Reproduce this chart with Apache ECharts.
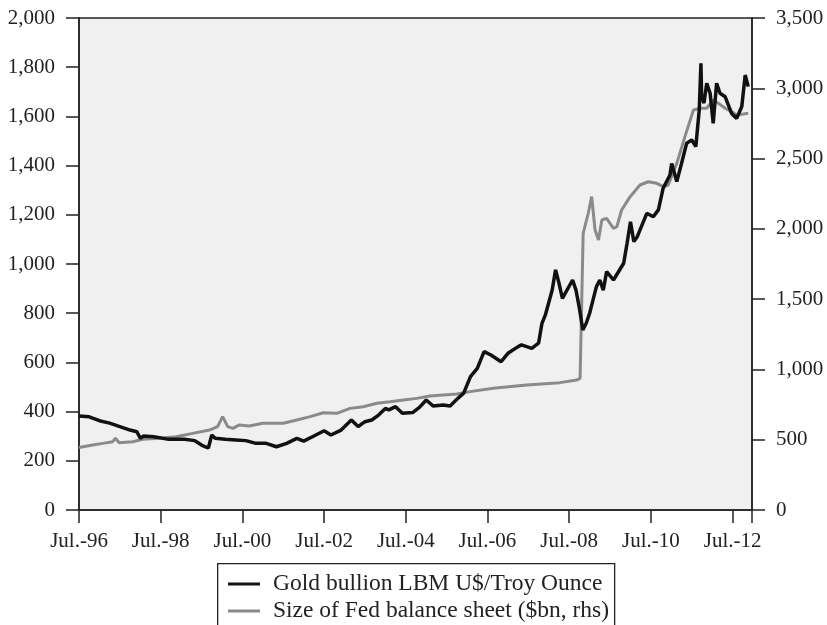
<!DOCTYPE html>
<html>
<head>
<meta charset="utf-8">
<script src="https://cdn.jsdelivr.net/npm/echarts@6/dist/echarts.min.js"></script>
<style>
  html, body { margin: 0; padding: 0; background: #fff; }
  #chart { width: 827px; height: 625px; }
</style>
</head>
<body>
<div id="chart"></div>
<script>
// x values are months counted from July 1996
const xTickLabels = ['Jul.-96', 'Jul.-98', 'Jul.-00', 'Jul.-02', 'Jul.-04', 'Jul.-06', 'Jul.-08', 'Jul.-10', 'Jul.-12'];

// Gold bullion, LBM US$ per troy ounce (left axis)
const goldMonths = [0, 3, 6, 9, 12, 15, 17, 18, 19, 22, 26, 29, 31, 34, 36, 37, 38, 39, 40, 43, 46, 49, 52, 55, 58,
  61, 64, 66, 69, 72, 74, 77, 80, 82, 84, 86, 88, 90, 91, 93, 95, 98, 100, 102, 104, 107, 109, 111, 113,
  115, 117, 119, 121, 124, 126, 129, 130, 133, 135, 136, 137, 139, 140, 141, 142, 145, 146, 147, 148, 149,
  150, 151, 152, 153, 154, 155, 157, 160, 161, 162, 163, 164, 166.8, 168.7, 170.2, 171.6, 173.6, 174.1,
  175.6, 177, 178.5, 180, 181.2, 182.2, 182.7, 182.9, 183.6, 184.4, 185.4, 186.3, 187.3, 188.3, 189.8,
  191.7, 193.2, 194.7, 195.7, 196.6];
const goldPrices = [382, 379, 363, 353, 339, 325, 318, 292, 301, 298, 288, 288, 288, 282, 264, 258, 252, 305, 292, 288, 285, 282, 271, 271, 257,
  271, 291, 280, 301, 322, 305, 325, 366, 339, 359, 366, 386, 413, 407, 420, 393, 396, 417, 447, 423, 427, 423, 450, 475,
  542, 576, 644, 630, 603, 637, 664, 671, 657, 678, 759, 793, 894, 976, 922, 860, 935, 894, 820, 732, 759,
  800, 854, 908, 935, 894, 969, 935, 1003, 1084, 1172, 1091, 1111, 1206, 1192, 1220, 1308, 1362, 1409,
  1335, 1409, 1491, 1504, 1477, 1626, 1816, 1680, 1654, 1735, 1694, 1572, 1735, 1694, 1680,
  1612, 1592, 1640, 1768, 1721];

// Size of Fed balance sheet, $bn (right axis)
const fedMonths = [0, 4, 7, 9.9, 10.7, 11.8, 15.8, 18.7, 23.6, 28.5, 33.4, 38.3, 40.7, 42.2, 43.7, 45.2, 47.1, 50, 54,
  60, 64, 67.9, 71.8, 75.7, 79.6, 83.5, 87.5, 91.4, 95.3, 99.2, 103.1, 107, 111, 114.9, 121.7, 131.5, 141.3,
  146.2, 147.2, 148.1, 149.6, 150.6, 151.6, 152.6, 153.6, 155, 157, 158, 159.4, 161.9, 164.8, 167.2, 169.7,
  171.7, 173.1, 175.6, 178, 180.5, 182.5, 184.4, 186.3, 187.8, 189.8, 191.7, 193.2, 195.2, 196.6];
const fedAssets = [445, 462, 474, 486, 510, 479, 486, 503, 510, 521, 545, 569, 593, 664, 593, 581, 605, 598, 617,
  617, 640, 664, 692, 688, 723, 735, 759, 770, 782, 794, 811, 818, 825, 842, 866, 889, 906,
  925, 937, 1968, 2111, 2229, 1992, 1921, 2063, 2075, 2004, 2015, 2134, 2229, 2312, 2335, 2324,
  2300, 2312, 2466, 2656, 2846, 2858, 2858, 2917, 2893, 2858, 2834, 2810, 2817, 2822];

const pair = (xs, ys) => xs.map((x, i) => [x, ys[i]]);
const withCommas = v => String(v).replace(/\B(?=(\d{3})+(?!\d))/g, ',');

const FONT = 'Liberation Serif';
const INK = '#222';
const axisText = { fontFamily: FONT, fontSize: 21, color: INK };

const chart = echarts.init(document.getElementById('chart'), null, { renderer: 'canvas' });
chart.setOption({
  backgroundColor: '#fff',
  animation: false,
  grid: {
    left: 79, right: 75, top: 18, bottom: 115,
    show: true, backgroundColor: '#f0f0f0', borderColor: INK, borderWidth: 1.5
  },
  xAxis: {
    type: 'value', min: 0, max: 197.7, interval: 24,
    axisLine: { lineStyle: { color: INK, width: 1.5 } },
    axisTick: { length: 13, lineStyle: { color: INK, width: 1.5 } },
    axisLabel: Object.assign({ margin: 21, formatter: v => (v % 24 === 0 ? xTickLabels[v / 24] || '' : '') }, axisText),
    splitLine: { show: false }
  },
  yAxis: [{
    type: 'value', min: 0, max: 2000, interval: 200, position: 'left',
    axisLine: { show: true, lineStyle: { color: INK, width: 1.5 } },
    axisTick: { show: true, length: 13, lineStyle: { color: INK, width: 1.5 } },
    axisLabel: Object.assign({ margin: 24, formatter: withCommas }, axisText),
    splitLine: { show: false }
  }, {
    type: 'value', min: 0, max: 3500, interval: 500, position: 'right',
    axisLine: { show: true, lineStyle: { color: INK, width: 1.5 } },
    axisTick: { show: true, length: 13, lineStyle: { color: INK, width: 1.5 } },
    axisLabel: Object.assign({ margin: 24, formatter: withCommas }, axisText),
    splitLine: { show: false }
  }],
  // legend frame runs off the bottom edge of the page
  graphic: [{
    type: 'rect', left: 217, top: 563, z: 0,
    shape: { width: 397, height: 90 },
    style: { fill: '#fff', stroke: INK, lineWidth: 1.3 }
  }],
  legend: {
    orient: 'vertical', left: 228, top: 572, z: 5,
    data: ['Gold bullion LBM U$/Troy Ounce', 'Size of Fed balance sheet ($bn, rhs)'],
    icon: 'rect', itemWidth: 32, itemHeight: 3, itemGap: 3,
    padding: 0,
    textStyle: { fontFamily: FONT, fontSize: 23.5, color: INK, padding: [0, 0, 0, 8] }
  },
  series: [{
    name: 'Size of Fed balance sheet ($bn, rhs)', type: 'line', yAxisIndex: 1,
    data: pair(fedMonths, fedAssets), symbol: 'none',
    lineStyle: { color: '#8a8a8a', width: 3 }, itemStyle: { color: '#8a8a8a' }
  }, {
    name: 'Gold bullion LBM U$/Troy Ounce', type: 'line', yAxisIndex: 0,
    data: pair(goldMonths, goldPrices), symbol: 'none',
    lineStyle: { color: '#111', width: 3.5 }, itemStyle: { color: '#111' }
  }]
});
</script>
</body>
</html>
